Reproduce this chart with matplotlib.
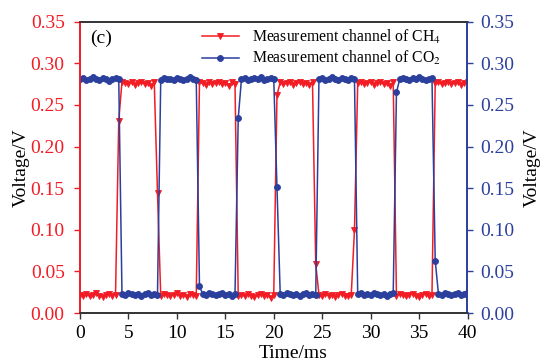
import numpy as np
import matplotlib
matplotlib.use("Agg")
import matplotlib.pyplot as plt

plt.rcParams['font.family'] = ['Liberation Serif', 'DejaVu Serif']
plt.rcParams['mathtext.fontset'] = 'stix'

# sample times (ms): uniform 1/3 ms sampling, 121 samples over 0-40 ms
time_ms = np.linspace(0, 40, 121)

ch4_voltage = [
    0.022, 0.021, 0.023, 0.020, 0.022, 0.024, 0.021, 0.019, 0.022, 0.023, 0.021, 0.022,
    0.231,
    0.278, 0.276, 0.275, 0.277, 0.274, 0.276, 0.277, 0.275, 0.276, 0.273, 0.277,
    0.144,
    0.021, 0.023, 0.022, 0.020, 0.022, 0.024, 0.021, 0.022, 0.019, 0.023, 0.022, 0.021,
    0.277, 0.276, 0.274, 0.277, 0.275, 0.276, 0.278, 0.275, 0.276, 0.273, 0.277, 0.275,
    0.021, 0.022, 0.020, 0.023, 0.021, 0.019, 0.022, 0.023, 0.020, 0.022, 0.018, 0.022,
    0.262,
    0.277, 0.275, 0.276, 0.278, 0.274, 0.276, 0.277, 0.275, 0.276, 0.274, 0.277,
    0.059,
    0.022, 0.020, 0.023, 0.021, 0.022, 0.019, 0.022, 0.023, 0.021, 0.020, 0.022,
    0.100,
    0.276, 0.277, 0.275, 0.276, 0.278, 0.274, 0.276, 0.277, 0.275, 0.276, 0.273, 0.277,
    0.021, 0.023, 0.022, 0.020, 0.022, 0.023, 0.021, 0.019, 0.022, 0.023, 0.020, 0.022,
    0.276, 0.277, 0.275, 0.276, 0.278, 0.275, 0.276, 0.277, 0.274, 0.276, 0.277,
]

co2_voltage = [
    0.281, 0.282, 0.280, 0.281, 0.283, 0.281, 0.280, 0.282, 0.281, 0.279, 0.281, 0.282, 0.281,
    0.023, 0.022, 0.024, 0.023, 0.022, 0.023, 0.021, 0.023, 0.024, 0.022, 0.023, 0.022,
    0.280, 0.282, 0.281, 0.281, 0.280, 0.282, 0.281, 0.280, 0.281, 0.283, 0.281, 0.280,
    0.032,
    0.023, 0.022, 0.024, 0.023, 0.022, 0.023, 0.024, 0.022, 0.023, 0.021, 0.023,
    0.234,
    0.281, 0.282, 0.280, 0.281, 0.282, 0.281, 0.283, 0.280, 0.281, 0.282, 0.281,
    0.151,
    0.023, 0.022, 0.024, 0.023, 0.022, 0.023, 0.021, 0.023, 0.024, 0.022, 0.023, 0.022,
    0.281, 0.282, 0.280, 0.281, 0.283, 0.281, 0.280, 0.282, 0.281, 0.280, 0.282, 0.281,
    0.023, 0.024, 0.022, 0.023, 0.022, 0.024, 0.023, 0.022, 0.023, 0.021, 0.023, 0.024,
    0.265,
    0.281, 0.282, 0.281, 0.280, 0.282, 0.281, 0.283, 0.281, 0.280, 0.281, 0.282,
    0.063,
    0.023, 0.022, 0.024, 0.023, 0.022, 0.023, 0.024, 0.022, 0.023, 0.024,
]

x_ticks = [0, 5, 10, 15, 20, 25, 30, 35, 40]
y_ticks = [0.00, 0.05, 0.10, 0.15, 0.20, 0.25, 0.30, 0.35]

RED = '#F21C24'
BLUE = '#2B3F9C'
GRAY = '#333333'
FS = 14

fig = plt.figure(figsize=(5.41, 3.60), dpi=100)
W, H = 387.5, 291.3
ax = fig.add_axes([80 / 541, 1 - 313 / 360, W / 541, H / 360])
ax2 = ax.twinx()

l1, = ax.plot(time_ms, ch4_voltage, color=RED, lw=1.1, marker='v', ms=4.8,
              markeredgewidth=0.6, label=r'Measurement channel of CH$_4$')
l2, = ax2.plot(time_ms, co2_voltage, color=BLUE, lw=1.1, marker='o', ms=4.3,
               markeredgewidth=0.6, label=r'Measurement channel of CO$_2$')

for a in (ax, ax2):
    a.set_xlim(0, 40)
    a.set_ylim(0, 0.35)
    a.set_yticks(y_ticks)
    a.set_yticklabels([f'{v:.2f}' for v in y_ticks])

ax.set_xticks(x_ticks)
ax.set_xticklabels([str(v) for v in x_ticks], fontsize=FS)
ax.tick_params(axis='x', direction='out', length=4, width=1, colors=GRAY, labelcolor='black', pad=5)
ax.tick_params(axis='y', direction='out', length=4, width=1, colors=RED, labelsize=FS, pad=7)
ax2.tick_params(axis='y', direction='out', length=4, width=1, colors=BLUE, labelsize=FS, pad=5)

for a in (ax, ax2):
    a.spines['top'].set_color(GRAY)
    a.spines['bottom'].set_color(GRAY)
    a.spines['left'].set_color(RED)
    a.spines['right'].set_color(BLUE)
    for s in a.spines.values():
        s.set_linewidth(1.2)

ax.set_xlabel('Time/ms', fontsize=FS)
ax.xaxis.set_label_coords(213 / W, -31.5 / H)
ax.set_ylabel('Voltage/V', fontsize=FS)
ax.yaxis.set_label_coords(-50 / W, 0.5)
ax2.set_ylabel('Voltage/V', fontsize=FS, rotation=90)
ax2.yaxis.set_label_coords((524 - 80) / W, 0.5)

ax.text(10 / W, (313 - 38.5) / H, '(c)', transform=ax.transAxes, fontsize=FS,
        va='center', ha='left')

ax2.legend(handles=[l1, l2], loc='upper left', bbox_to_anchor=((189 - 80) / W, 1.022),
           frameon=False, fontsize=11.3, handlelength=2.4, handletextpad=0.8,
           labelspacing=0.2, borderpad=0.3)

fig.savefig('out.png', dpi=100)
